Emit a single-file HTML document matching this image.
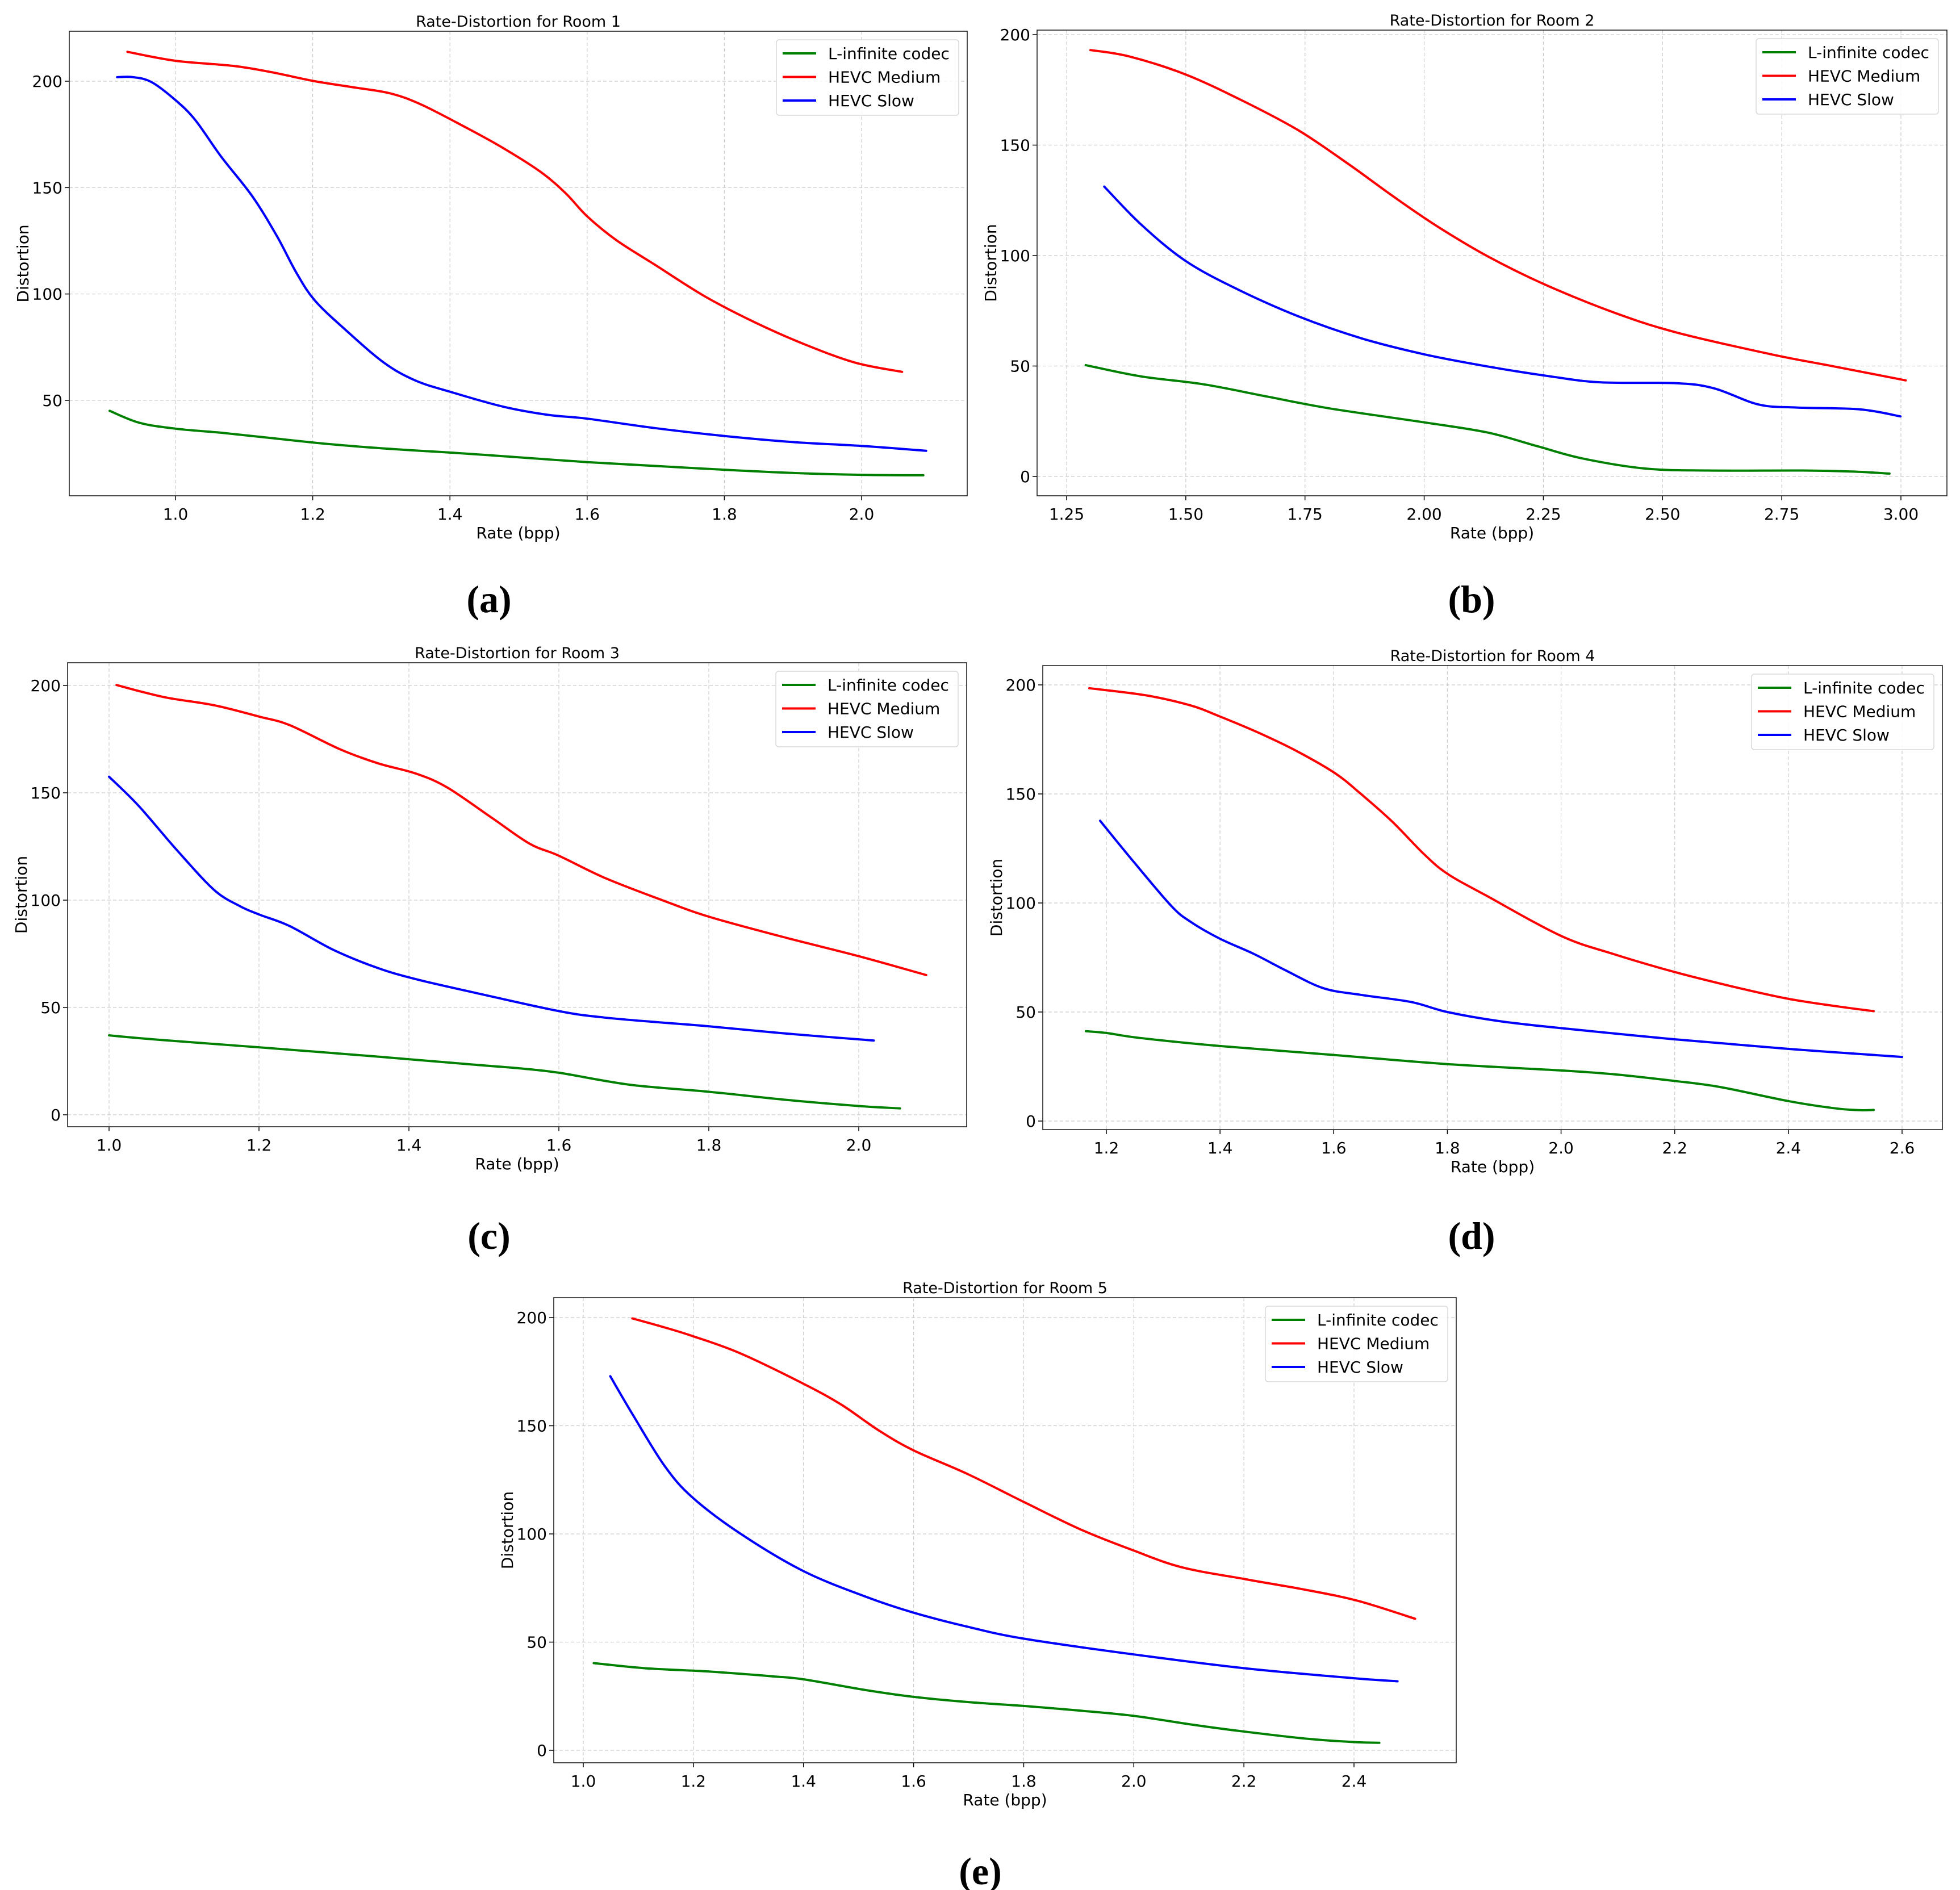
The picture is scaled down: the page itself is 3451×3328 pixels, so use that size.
<!DOCTYPE html>
<html><head><meta charset="utf-8"><style>
html,body{margin:0;padding:0;background:#fff;}
svg{display:block;}
text{font-family:"DejaVu Sans","Liberation Sans",sans-serif;}
</style></head><body>
<svg id="fig" width="3451" height="3328" viewBox="0 0 3451 3328" xmlns="http://www.w3.org/2000/svg"></svg>
<script>
// ---------- DATA ----------
const room1_green_x=[0.904,0.947,1.0,1.066,1.139,1.222,1.313,1.405,1.506,1.6,1.698,1.799,1.9,2.0,2.09];
const room1_green_y=[45.1,39.5,36.7,34.8,32.3,29.5,27.2,25.4,23.1,21.0,19.2,17.4,15.9,15.0,14.8];
const room1_red_x=[0.93,1.0,1.084,1.139,1.203,1.258,1.313,1.359,1.423,1.478,1.533,1.57,1.6,1.643,1.698,1.772,1.845,1.918,1.991,2.059];
const room1_red_y=[213.8,209.6,207.2,204.3,200,197.2,194.3,188.9,178.3,168.5,157.2,146.9,136.5,125.2,113.9,98.8,86.6,76.2,67.7,63.4];
const room1_blue_x=[0.915,0.938,0.965,1.0,1.029,1.066,1.112,1.148,1.176,1.203,1.249,1.304,1.35,1.405,1.478,1.543,1.6,1.698,1.799,1.9,2.0,2.094];
const room1_blue_y=[201.9,201.9,199.6,191.1,181.7,164.8,145.9,127.1,110.1,97.0,82.8,67.7,59.3,53.6,47.0,43.2,41.4,37.0,33.3,30.4,28.6,26.3];

const room2_green_x=[1.29,1.406,1.538,1.67,1.802,2.0,2.133,2.239,2.331,2.463,2.596,2.794,2.9,2.976];
const room2_green_y=[50.4,45.3,41.7,36.2,30.8,24.5,19.9,13.6,8.2,3.6,2.7,2.7,2.2,1.3];
const room2_red_x=[1.30,1.38,1.498,1.617,1.736,1.842,1.935,2.027,2.133,2.252,2.397,2.529,2.728,2.86,3.01];
const room2_red_y=[193.0,190.2,182.1,170.3,156.7,141.3,126.8,113.3,99.7,87.0,74.3,65.2,55.3,49.8,43.5];
const room2_blue_x=[1.329,1.406,1.498,1.604,1.736,1.869,2.0,2.133,2.265,2.371,2.529,2.608,2.701,2.781,2.913,2.999];
const room2_blue_y=[131.2,114.1,97.8,85.2,72.5,62.5,55.3,49.8,45.3,42.6,42.2,39.9,32.6,31.2,30.4,27.2];

const room3_green_x=[1.0,1.065,1.201,1.359,1.485,1.552,1.6,1.695,1.801,1.905,2.0,2.055];
const room3_green_y=[37.0,35.0,31.4,27.1,23.4,21.5,19.6,14.0,10.7,6.9,4.1,3.0];
const room3_red_x=[1.01,1.073,1.14,1.199,1.241,1.308,1.359,1.409,1.451,1.51,1.561,1.6,1.661,1.737,1.801,1.905,2.0,2.09];
const room3_red_y=[200.2,194.6,190.8,185.6,181.5,170.3,163.7,159.0,152.5,138.5,126.3,120.7,110.4,100.1,92.2,82.3,73.9,65.1];
const room3_blue_x=[1.0,1.039,1.09,1.14,1.174,1.201,1.241,1.3,1.359,1.409,1.485,1.6,1.661,1.737,1.801,1.905,2.02];
const room3_blue_y=[157.5,144.1,123.5,104.8,97.3,93.2,87.9,76.7,68.3,63.2,57.1,48.3,45.3,43.0,41.2,37.8,34.6];

const room4_green_x=[1.164,1.2,1.259,1.4,1.6,1.8,2.0,2.091,2.199,2.28,2.399,2.48,2.524,2.55];
const room4_green_y=[41.2,40.4,38.1,34.4,30.3,26.1,23.2,21.5,18.4,15.6,9.2,5.9,5.0,5.1];
const room4_red_x=[1.17,1.27,1.348,1.4,1.47,1.536,1.603,1.647,1.703,1.758,1.8,1.869,2.0,2.091,2.199,2.313,2.399,2.48,2.55];
const room4_red_y=[198.5,195.2,190.6,185.5,177.8,169.5,159.4,150.2,137.3,122.6,113.4,103.3,84.9,76.7,68.4,61.0,56.1,52.8,50.4];
const room4_blue_x=[1.189,1.248,1.314,1.348,1.4,1.459,1.514,1.581,1.647,1.736,1.8,1.892,2.0,2.199,2.399,2.6];
const room4_blue_y=[137.7,118.9,98.7,91.4,83.6,76.7,69.3,61.0,57.9,54.6,50.0,45.8,42.6,37.5,33.1,29.4];

const room5_green_x=[1.019,1.113,1.228,1.343,1.4,1.514,1.6,1.698,1.8,1.904,2.0,2.11,2.202,2.316,2.4,2.446];
const room5_green_y=[40.3,37.9,36.4,34.2,32.8,27.8,24.7,22.3,20.5,18.3,15.9,11.7,8.6,5.3,3.8,3.5];
const room5_red_x=[1.089,1.148,1.199,1.285,1.4,1.469,1.537,1.6,1.698,1.8,1.904,2.0,2.087,2.202,2.316,2.408,2.511];
const room5_red_y=[199.6,195.4,191.4,183.5,169.4,159.7,147.8,138.6,127.7,114.8,102.0,92.3,84.6,79.1,74.0,69.0,60.8];
const room5_blue_x=[1.049,1.09,1.148,1.199,1.285,1.4,1.514,1.6,1.698,1.8,2.0,2.202,2.4,2.479];
const room5_blue_y=[172.9,155.1,131.3,116.7,100.2,82.8,70.9,63.6,57.1,51.6,44.3,37.9,33.3,31.9];

const xticks_room1=[1.0,1.2,1.4,1.6,1.8,2.0];
const xticks_room2=[1.25,1.5,1.75,2.0,2.25,2.5,2.75,3.0];
const xticks_room3=[1.0,1.2,1.4,1.6,1.8,2.0];
const xticks_room4=[1.2,1.4,1.6,1.8,2.0,2.2,2.4,2.6];
const xticks_room5=[1.0,1.2,1.4,1.6,1.8,2.0,2.2,2.4];
const yticks_room1=[50,100,150,200];
const yticks_other=[0,50,100,150,200];
const series_names=["L-infinite codec","HEVC Medium","HEVC Slow"];

// ---------- LAYOUT ----------
const NS="http://www.w3.org/2000/svg";
const svg=document.getElementById('fig');
function el(tag,attrs,parent){const e=document.createElementNS(NS,tag);for(const k in attrs)e.setAttribute(k,attrs[k]);(parent||svg).appendChild(e);return e;}
function smoothPath(P){
  let d='M'+P[0][0].toFixed(1)+','+P[0][1].toFixed(1);
  for(let i=0;i<P.length-1;i++){
    const p0=P[i-1]||P[i],p1=P[i],p2=P[i+1],p3=P[i+2]||P[i+1];
    const c1=[p1[0]+(p2[0]-p0[0])/6,p1[1]+(p2[1]-p0[1])/6];
    const c2=[p2[0]-(p3[0]-p1[0])/6,p2[1]-(p3[1]-p1[1])/6];
    d+=' C'+c1[0].toFixed(1)+','+c1[1].toFixed(1)+' '+c2[0].toFixed(1)+','+c2[1].toFixed(1)+' '+p2[0].toFixed(1)+','+p2[1].toFixed(1);
  }
  return d;
}

const panels=[
 {id:1,l:122,t:55,r:1703,b:873,xc:[1.0,309,2.0,1517],yc:[200,143,50,705],xt:xticks_room1,yt:yticks_room1,dec:1,cap:"(a)",capx:861,capy:1078,
  g:[room1_green_x,room1_green_y],m:[room1_red_x,room1_red_y],s:[room1_blue_x,room1_blue_y]},
 {id:2,l:1826,t:53,r:3428,b:873,xc:[1.25,1878,3.0,3347],yc:[200,61,0,839],xt:xticks_room2,yt:yticks_other,dec:2,cap:"(b)",capx:2591,capy:1078,
  g:[room2_green_x,room2_green_y],m:[room2_red_x,room2_red_y],s:[room2_blue_x,room2_blue_y]},
 {id:3,l:119,t:1167,r:1702,b:1984,xc:[1.0,192,2.0,1512],yc:[200,1207,0,1963],xt:xticks_room3,yt:yticks_other,dec:1,cap:"(c)",capx:861,capy:2199,
  g:[room3_green_x,room3_green_y],m:[room3_red_x,room3_red_y],s:[room3_blue_x,room3_blue_y]},
 {id:4,l:1836,t:1172,r:3420,b:1989,xc:[1.2,1948,2.6,3349],yc:[200,1206,0,1974],xt:xticks_room4,yt:yticks_other,dec:1,cap:"(d)",capx:2591,capy:2199,
  g:[room4_green_x,room4_green_y],m:[room4_red_x,room4_red_y],s:[room4_blue_x,room4_blue_y]},
 {id:5,l:975,t:2285,r:2564,b:3104,xc:[1.0,1027,2.4,2384],yc:[200,2320,0,3082],xt:xticks_room5,yt:yticks_other,dec:1,cap:"(e)",capx:1726,capy:3318,
  g:[room5_green_x,room5_green_y],m:[room5_red_x,room5_red_y],s:[room5_blue_x,room5_blue_y]}
];
const colors=["#008000","#ff0000","#0000ff"];

panels.forEach(p=>{
  const X=v=>p.xc[1]+(v-p.xc[0])*(p.xc[3]-p.xc[1])/(p.xc[2]-p.xc[0]);
  const Y=v=>p.yc[1]+(v-p.yc[0])*(p.yc[3]-p.yc[1])/(p.yc[2]-p.yc[0]);
  const g=el('g',{});
  
  
  p.xt.forEach(v=>{
    const ln=el('line',{x1:X(v),x2:X(v),y1:p.t,y2:p.b,stroke:'#cccccc','stroke-width':1.2,'stroke-dasharray':'6,4'},g);
    
    
    const tk=el('line',{x1:X(v),x2:X(v),y1:p.b,y2:p.b+8,stroke:'#000','stroke-width':1.5},g);
    
    
    const tx=el('text',{x:X(v),y:p.b+42,'font-size':28,'text-anchor':'middle',fill:'#000'},g);
    tx.textContent=v.toFixed(p.dec);
    
    
  });
  p.yt.forEach(v=>{
    const ln=el('line',{x1:p.l,x2:p.r,y1:Y(v),y2:Y(v),stroke:'#cccccc','stroke-width':1.2,'stroke-dasharray':'6,4'},g);
    
    
    const tk=el('line',{x1:p.l-8,x2:p.l,y1:Y(v),y2:Y(v),stroke:'#000','stroke-width':1.5},g);
    
    
    const tx=el('text',{x:p.l-12,y:Y(v)+10,'font-size':28,'text-anchor':'end',fill:'#000'},g);
    tx.textContent=String(v);
    
    
  });
  [p.g,p.m,p.s].forEach((sr,i)=>{
    const P=sr[0].map((x,k)=>[X(x),Y(sr[1][k])]);
    const pl=el('path',{d:smoothPath(P),fill:'none',stroke:colors[i],'stroke-width':4,'stroke-linejoin':'round','stroke-linecap':'round'},g);
    
    
  });
  const fr=el('rect',{x:p.l,y:p.t,width:p.r-p.l,height:p.b-p.t,fill:'none',stroke:'#222','stroke-width':1.6},g);
  
  
  const ti=el('text',{x:(p.l+p.r)/2,y:p.t-8,'font-size':27,'text-anchor':'middle',fill:'#000'},g);
  ti.textContent='Rate-Distortion for Room '+p.id;
  
  
  const xl=el('text',{x:(p.l+p.r)/2,y:p.b+75,'font-size':28,'text-anchor':'middle',fill:'#000'},g);
  xl.textContent='Rate (bpp)';
  
  
  const cy=(p.t+p.b)/2;
  const yl=el('text',{x:p.l-72,y:cy,'font-size':28,'text-anchor':'middle',fill:'#000',transform:'rotate(-90 '+(p.l-72)+' '+cy+')'},g);
  yl.textContent='Distortion';
  
  
  const lx=p.r-336, ly=p.t+15;
  const lg=el('g',{},g);
  
  
  el('rect',{x:lx,y:ly,width:321,height:133,rx:5,fill:'#fff','fill-opacity':0.85,stroke:'#d8d8d8','stroke-width':1.5},lg);
  series_names.forEach((nm,i)=>{
    const ry=ly+24+i*41.5;
    const e=el('g',{},lg);
    
    
    el('line',{x1:lx+11,x2:lx+70,y1:ry,y2:ry,stroke:colors[i],'stroke-width':4},e);
    const t=el('text',{x:lx+91,y:ry+10,'font-size':28,fill:'#000'},e);
    t.textContent=nm;
  });
  const cp=el('text',{x:p.capx,y:p.capy,'font-size':68,'font-weight':'bold','text-anchor':'middle',fill:'#000',style:'font-family:"Liberation Serif",serif'});
  cp.textContent=p.cap;
  
  
});
</script>
</body></html>
